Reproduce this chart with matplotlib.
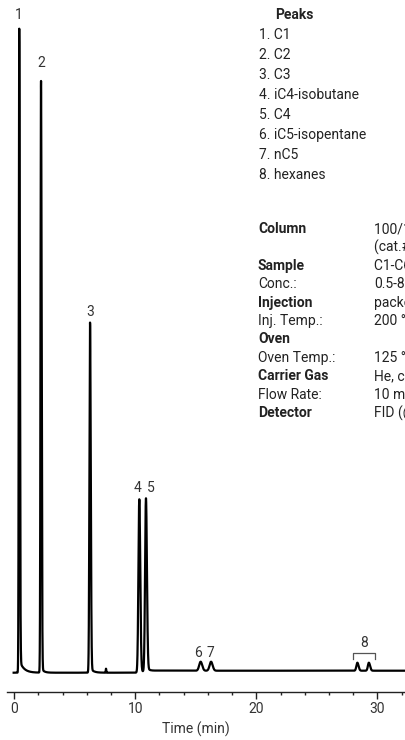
import numpy as np
import matplotlib
matplotlib.use("Agg")
import matplotlib.pyplot as plt

plt.rcParams['font.family'] = ['Roboto', 'DejaVu Sans']

# ---- data (retention time in min, response in arbitrary units) ----
peak_labels = ["1", "2", "3", "4", "5", "6", "7"]
peak_times = [0.41, 2.21, 6.26, 10.33, 10.88, 15.40, 16.26, 28.35, 29.30, 7.58]
peak_heights = [644, 592, 350, 173, 173, 9, 9, 8, 8, 4]
peak_sigma_left = [0.035, 0.04, 0.05, 0.07, 0.07, 0.12, 0.12, 0.08, 0.08, 0.02]
peak_sigma_right = [0.05, 0.05, 0.06, 0.08, 0.08, 0.13, 0.13, 0.10, 0.10, 0.02]
tail_amp = [13, 5, 5, 2, 4, 0, 0, 0, 0, 0]
tail_tau = [0.35, 0.2, 0.25, 0.2, 0.3, 1, 1, 1, 1, 1]
baseline_t = [-0.05, 10.0, 11.8, 32.5]
baseline_y = [-0.7, -0.7, 1.3, 1.3]

label_t = [0.39, 2.25, 6.26, 10.2, 11.3, 15.2, 16.2]
label_y = [657, 609, 360, 184, 184, 19, 19]

group8_span = [27.97, 29.79]
group8_label = "8"

legend_title = "Peaks"
legend_items = ["1. C1", "2. C2", "3. C3", "4. iC4-isobutane", "5. C4",
                "6. iC5-isopentane", "7. nC5", "8. hexanes"]

cond_labels = ["Column", "", "Sample", "Conc.:", "Injection", "Inj. Temp.:",
               "Oven", "Oven Temp.:", "Carrier Gas", "Flow Rate:", "Detector"]
cond_bold = [True, False, True, False, True, False, True, False, True, False, True]
cond_values = ["100/120 Carboxen-1000", "(cat.# 12390-U)", "C1-C6 hydrocarbons",
               "0.5-8%", "packed", "200 °C", "", "125 °C", "He, constant flow",
               "10 mL/min", "FID (@ 250 °C)"]

xticks_major = [0, 10, 20, 30]
xlabel = "Time (min)"

# ---- trace ----
t = np.linspace(-0.05, 32.5, 8000)
y = np.interp(t, baseline_t, baseline_y)
for t0, h, sl, sr, a, tau in zip(peak_times, peak_heights, peak_sigma_left,
                                 peak_sigma_right, tail_amp, tail_tau):
    s = np.where(t < t0, sl, sr)
    y = y + h * np.exp(-0.5 * ((t - t0) / s) ** 2)
    if a:
        y = y + np.where(t > t0, a * np.exp(-(t - t0) / tau) * (1 - np.exp(-(t - t0) / 0.03)), 0)

W, H = 406, 740
fig = plt.figure(figsize=(W / 100, H / 100), dpi=100)
ax = fig.add_axes([7 / W, 48 / H, 399 / W, 692 / H])
ax.plot(t, y, color="black", lw=1.6, solid_joinstyle="round")
ax.set_xlim(-0.6, 32.37)
ax.set_ylim(-20, 672)

for s in ["left", "right", "top"]:
    ax.spines[s].set_visible(False)
ax.spines["bottom"].set_color("#222222")
ax.spines["bottom"].set_linewidth(1.0)
ax.set_yticks([])
ax.set_xticks(xticks_major)
ax.set_xticks(np.arange(0, 33, 2), minor=True)
ax.tick_params(axis="x", which="major", direction="out", length=5, width=1.0,
               color="#222222", labelsize=10, labelcolor="#333333", pad=2)
ax.tick_params(axis="x", which="minor", direction="out", length=2.5, width=1.0,
               color="#222222")
ax.text(15, -57, xlabel, ha="center", va="center", fontsize=10, color="#333333",
        clip_on=False)

txt_col = "#333333"
for lab, lt, ly in zip(peak_labels, label_t, label_y):
    ax.text(lt, ly, lab, ha="center", va="center", fontsize=10, color=txt_col)

# bracket for group 8
bx0, bx1 = group8_span
ax.plot([bx0, bx0, bx1, bx1], [13, 19, 19, 13], color="#555555", lw=0.9)
ax.text((bx0 + bx1) / 2, 29, group8_label, ha="center", va="center",
        fontsize=10, color=txt_col)

def ftext(x, yy, s, **kw):
    fig.text(x / W, 1 - yy / H, s, va="center", fontsize=10, color="#222222", **kw)

ftext(275, 15, legend_title, fontweight="bold")
for i, item in enumerate(legend_items):
    ftext(259, 35 + 20 * i, item)

for i, (lab, b, val) in enumerate(zip(cond_labels, cond_bold, cond_values)):
    yy = 229 + 18.4 * i
    if lab:
        ftext(258, yy, lab, fontweight="bold" if b else "normal")
    if val:
        ftext(374, yy, val)

fig.savefig("out.png", dpi=100)
